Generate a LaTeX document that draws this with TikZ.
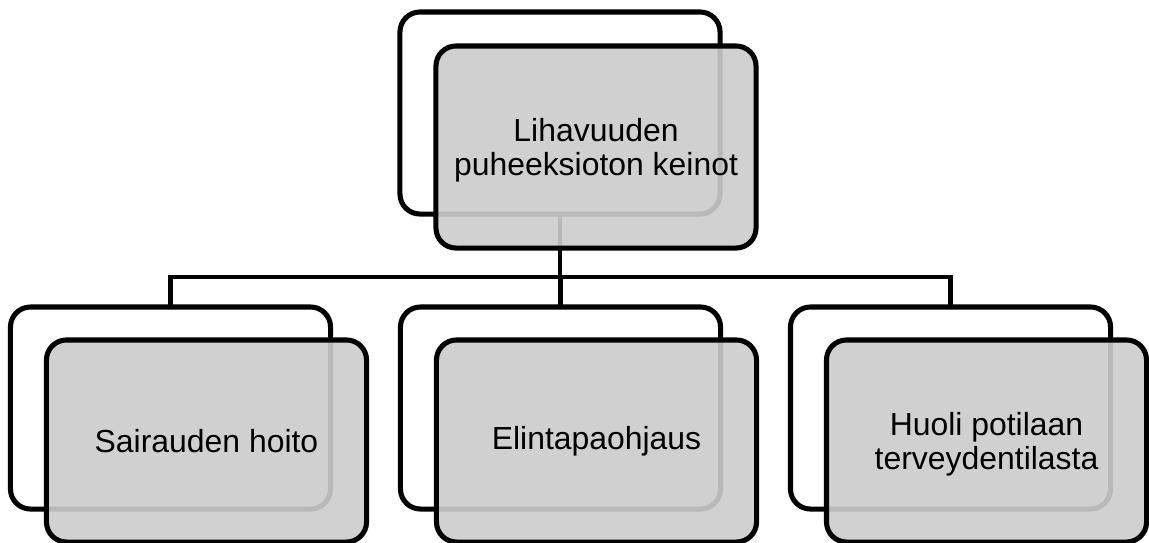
\documentclass[tikz,border=0pt]{standalone}
\usepackage{fontspec}
\setmainfont{Liberation Sans}
\usetikzlibrary{calc}
\definecolor{ink}{RGB}{0,0,0}
\definecolor{shade}{RGB}{204,204,204}
\tikzset{
  every picture/.style={x=0.025cm, y=-0.025cm, line width=3.6pt, color=ink},
  card/.style={rounded corners=0.5cm, minimum width=8cm, minimum height=5.05cm, inner sep=0pt, align=center,
    font=\fontsize{22.7}{24.2}\selectfont},
  backbox/.style={card, draw=ink, fill=white},
  frontbox/.style={card, draw=ink, fill=shade, fill opacity=0.91, text opacity=1},
  link/.style={line width=3.3pt, line cap=rect},
}

\begin{document}
\begin{tikzpicture}
  \useasboundingbox (0,0) rectangle (1149,542);
  \coordinate (bus) at (0,277);
  % back cards
  \node[backbox] (topB) at (560,113) {};
  \node[backbox] (leftB) at (170.5,408) {};
  \node[backbox] (midB) at (560.5,408) {};
  \node[backbox] (rightB) at (950.5,408) {};
  % tree lines
  \draw[link] (topB.south) -- (topB.south |- bus);
  \draw[link] (leftB.north) |- (bus -| rightB.north) -- (rightB.north);
  \draw[link] (midB.north) -- (midB.north |- bus);
  % front cards
  \node[frontbox, text depth=-1pt] (top) at ($(topB)+(36,34)$) {Lihavuuden\\puheeksioton keinot};
  \node[frontbox] (left) at ($(leftB)+(36,33)$) {Sairauden hoito};
  \node[frontbox] (mid) at ($(midB)+(36,33)$) {Elintapaohjaus};
  \node[frontbox, text depth=-3pt] (right) at ($(rightB)+(36,33)$) {Huoli potilaan\\terveydentilasta};
\end{tikzpicture}
\end{document}
